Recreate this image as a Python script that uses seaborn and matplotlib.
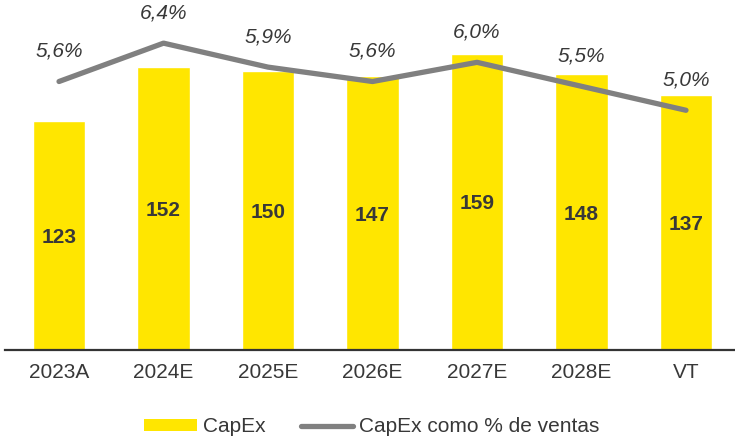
import matplotlib
matplotlib.use("Agg")
import matplotlib.pyplot as plt
import seaborn as sns
import pandas as pd
from matplotlib.patches import Patch
from matplotlib.lines import Line2D

periods = ["2023A", "2024E", "2025E", "2026E", "2027E", "2028E", "VT"]
capex = [123, 152, 150, 147, 159, 148, 137]
capex_pct = [5.6, 6.4, 5.9, 5.6, 6.0, 5.5, 5.0]
pct_labels = ["5,6%", "6,4%", "5,9%", "5,6%", "6,0%", "5,5%", "5,0%"]

YELLOW = "#FFE600"
GREY = "#808080"
TEXT = "#383838"

sns.set_theme(style="white")
plt.rcParams["font.family"] = ["Liberation Sans", "DejaVu Sans"]

df = pd.DataFrame({"periodo": periods, "capex": capex, "pct": capex_pct})

fig = plt.figure(figsize=(7.35, 4.38), dpi=100)
ax = fig.add_axes([5 / 735, 88 / 438, 730 / 735, 350 / 438])

sns.barplot(data=df, x="periodo", y="capex", color=YELLOW, width=0.5,
            saturation=1, ax=ax)
ax.set_ylim(0, 188)
ax.set_xlim(-0.517, 6.469)
# value labels at the middle of each bar
for bar, v in zip(ax.patches, capex):
    ax.text(bar.get_x() + bar.get_width() / 2, v / 2, f"{v}",
            ha="center", va="center_baseline", fontsize=15,
            fontweight="bold", color=TEXT)

ax2 = ax.twinx()
sns.lineplot(data=df, x="periodo", y="pct", color=GREY, linewidth=3.8,
             ax=ax2, solid_capstyle="round", solid_joinstyle="round")
ax2.set_ylim(0, 7.3)
for i, (v, lab) in enumerate(zip(capex_pct, pct_labels)):
    ax2.annotate(lab, (i, v), xytext=(0, 22), textcoords="offset points",
                 ha="center", va="center", fontsize=15, style="italic",
                 color=TEXT)

for a in (ax, ax2):
    a.set_xlabel("")
    a.set_ylabel("")
    a.set_yticks([])
    for side in ("top", "right", "left"):
        a.spines[side].set_visible(False)
ax2.spines["bottom"].set_visible(False)
ax.spines["bottom"].set_color("#333333")
ax.spines["bottom"].set_linewidth(1.6)
ax.tick_params(axis="x", length=0, pad=9, labelsize=15, labelcolor=TEXT)

handles = [Patch(facecolor=YELLOW, edgecolor="none"),
           Line2D([0], [0], color=GREY, linewidth=3.8, solid_capstyle="round")]
fig.legend(handles, ["CapEx", "CapEx como % de ventas"], loc="center",
           bbox_to_anchor=(372 / 735, 1 - 427 / 438), ncol=2, frameon=False,
           fontsize=15, labelcolor=TEXT, handlelength=2.5, handleheight=0.5,
           handletextpad=0.3, columnspacing=1.7)

fig.savefig("out.png", dpi=100)
